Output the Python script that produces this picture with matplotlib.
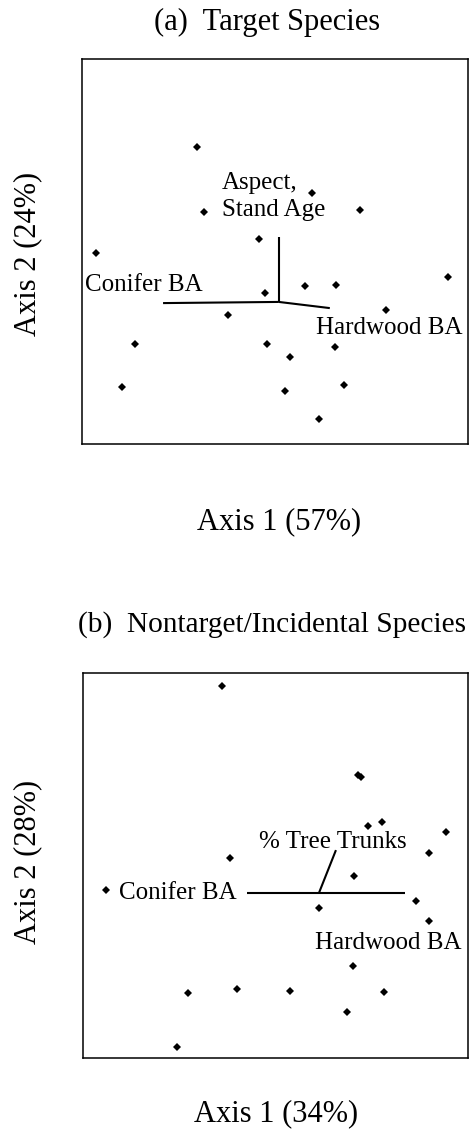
import matplotlib
matplotlib.use("Agg")
import matplotlib.pyplot as plt

plt.rcParams['font.family'] = ['Liberation Serif', 'DejaVu Serif']

# Panel (a) Target species: site scores (arbitrary ordination units 0-100)
a_x = [29.8, 59.6, 31.6, 72.0, 45.9, 3.6, 94.8, 57.8, 65.8, 47.4,
       78.8, 37.8, 13.7, 47.9, 65.5, 53.9, 10.4, 67.9, 52.6, 61.4]
a_y = [77.1, 65.2, 60.3, 60.8, 53.2, 49.6, 43.4, 41.0, 41.3, 39.2,
       34.8, 33.5, 26.0, 26.0, 25.2, 22.6, 14.8, 15.3, 13.8, 6.5]
a_origin = (51.0, 36.9)
a_vec_names = ["Conifer BA", "Aspect, Stand Age", "Hardwood BA"]
a_vec_x = [21.0, 51.0, 64.2]
a_vec_y = [36.6, 53.8, 35.3]

# Panel (b) Nontarget/incidental species
b_x = [36.1, 71.4, 72.2, 74.0, 77.7, 94.3, 38.2, 89.9, 70.4, 6.0,
       86.5, 61.3, 89.9, 70.1, 27.3, 40.0, 53.8, 78.2, 68.6, 24.4]
b_y = [96.6, 73.5, 73.0, 60.3, 61.3, 58.7, 51.9, 53.2, 47.3, 43.6,
       40.8, 39.0, 35.6, 23.9, 16.9, 17.9, 17.4, 17.1, 11.9, 2.9]
b_origin = (61.3, 42.9)
b_vec_names = ["Conifer BA", "% Tree Trunks", "Hardwood BA"]
b_vec_x = [42.6, 65.7, 83.6]
b_vec_y = [42.9, 54.0, 42.9]

W, H = 470, 1131
fig = plt.figure(figsize=(W / 100, H / 100), dpi=100)


def make_axes(left, top, right, bottom):
    ax = fig.add_axes([left / W, 1 - bottom / H, (right - left) / W, (bottom - top) / H])
    ax.set_xlim(0, 100)
    ax.set_ylim(0, 100)
    ax.set_xticks([])
    ax.set_yticks([])
    for s in ax.spines.values():
        s.set_linewidth(1.1)
        s.set_color('black')
    return ax


def draw(ax, xs, ys, origin, vx, vy):
    ax.plot(xs, ys, linestyle='none', marker='D', ms=4.2, color='black', mew=0)
    for ex, ey in zip(vx, vy):
        ax.plot([origin[0], ex], [origin[1], ey], color='black', lw=1.5,
                solid_capstyle='butt')


axa = make_axes(82, 59, 468, 444)
draw(axa, a_x, a_y, a_origin, a_vec_x, a_vec_y)
fs_in = 18
axa.text(0.8, 41.3, "Conifer BA", fontsize=fs_in, ha='left', va='center')
axa.text(36.3, 64.2, "Aspect,\nStand Age", fontsize=fs_in, ha='left', va='center',
         linespacing=1.3)
axa.text(60.6, 30.1, "Hardwood BA", fontsize=fs_in, ha='left', va='center')

axb = make_axes(83, 673, 468, 1058)
draw(axb, b_x, b_y, b_origin, b_vec_x, b_vec_y)
axb.text(9.4, 42.9, "Conifer BA", fontsize=fs_in, ha='left', va='center')
axb.text(45.7, 56.1, "% Tree Trunks", fontsize=fs_in, ha='left', va='center')
axb.text(60.3, 29.9, "Hardwood BA", fontsize=fs_in, ha='left', va='center')

fs_out = 22
fig.text(267 / W, 1 - 22 / H, "(a)  Target Species", fontsize=fs_out, ha='center', va='center')
fig.text(78 / W, 1 - 625 / H, "(b)  Nontarget/Incidental Species", fontsize=21.2,
         ha='left', va='center')
fig.text(28 / W, 1 - 254 / H, "Axis 2 (24%)", fontsize=fs_out, ha='center', va='center',
         rotation=90)
fig.text(28 / W, 1 - 862 / H, "Axis 2 (28%)", fontsize=fs_out, ha='center', va='center',
         rotation=90)
fig.text(279 / W, 1 - 522 / H, "Axis 1 (57%)", fontsize=fs_out, ha='center', va='center')
fig.text(276 / W, 1 - 1114 / H, "Axis 1 (34%)", fontsize=fs_out, ha='center', va='center')

fig.savefig("out.png", dpi=100, facecolor='white')
